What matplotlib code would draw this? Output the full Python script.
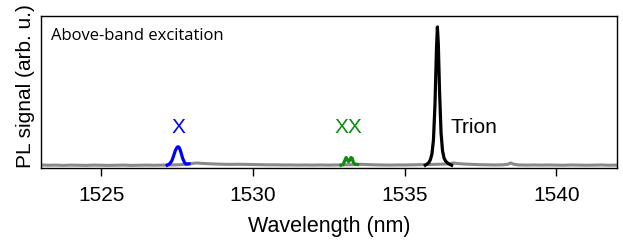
import numpy as np
import matplotlib
matplotlib.use("Agg")
import matplotlib.pyplot as plt

plt.rcParams['font.family'] = ['Liberation Sans', 'DejaVu Sans']

# Background PL spectrum (grey)
bg_wl = [1523.00, 1523.25, 1523.50, 1523.75, 1524.00, 1524.25, 1524.50, 1524.75,
         1525.00, 1525.25, 1525.50, 1525.75, 1526.00, 1526.25, 1526.50, 1526.75,
         1527.00, 1527.25, 1527.50, 1527.75, 1528.00, 1528.15, 1528.25, 1528.50,
         1528.75, 1529.00, 1529.25, 1529.50, 1529.75, 1530.00, 1530.25, 1530.50,
         1530.75, 1531.00, 1531.25, 1531.50, 1531.75, 1532.00, 1532.25, 1532.50,
         1532.75, 1533.00, 1533.25, 1533.50, 1533.75, 1534.00, 1534.25, 1534.50,
         1534.75, 1535.00, 1535.25, 1535.50, 1535.75, 1536.00, 1536.25, 1536.50,
         1536.60, 1536.75, 1537.00, 1537.25, 1537.50, 1537.75, 1538.00, 1538.25,
         1538.40, 1538.50, 1538.60, 1538.75, 1539.00, 1539.25, 1539.50, 1539.75,
         1540.00, 1540.25, 1540.50, 1540.75, 1541.00, 1541.25, 1541.50, 1541.75,
         1542.00]
bg_pl = [0.022, 0.020, 0.021, 0.019, 0.021, 0.020, 0.019, 0.021,
         0.020, 0.019, 0.020, 0.021, 0.019, 0.020, 0.021, 0.020,
         0.021, 0.022, 0.023, 0.026, 0.033, 0.036, 0.034, 0.031,
         0.029, 0.027, 0.026, 0.027, 0.026, 0.025, 0.024, 0.023,
         0.023, 0.022, 0.022, 0.021, 0.022, 0.021, 0.022, 0.021,
         0.022, 0.023, 0.024, 0.027, 0.025, 0.023, 0.022, 0.021,
         0.022, 0.022, 0.023, 0.024, 0.025, 0.026, 0.028, 0.030,
         0.036, 0.032, 0.028, 0.026, 0.024, 0.023, 0.022, 0.023,
         0.027, 0.036, 0.027, 0.022, 0.021, 0.022, 0.021, 0.022,
         0.021, 0.020, 0.022, 0.021, 0.020, 0.021, 0.022, 0.020,
         0.021]

# Exciton (X)
x_wl = [1527.17, 1527.25, 1527.32, 1527.38, 1527.44, 1527.50, 1527.53, 1527.57,
        1527.62, 1527.68, 1527.74, 1527.80, 1527.89]
x_pl = [0.020, 0.030, 0.050, 0.085, 0.125, 0.148, 0.151, 0.145,
        0.115, 0.070, 0.040, 0.028, 0.030]

# Biexciton (XX)
xx_wl = [1532.90, 1532.97, 1533.02, 1533.07, 1533.11, 1533.15, 1533.19, 1533.23,
         1533.27, 1533.31, 1533.37, 1533.45]
xx_pl = [0.020, 0.025, 0.050, 0.075, 0.060, 0.045, 0.055, 0.075,
         0.070, 0.040, 0.027, 0.025]

# Trion
tr_wl = [1535.68, 1535.75, 1535.80, 1535.85, 1535.90, 1535.95, 1536.00, 1536.05,
         1536.08, 1536.11, 1536.15, 1536.20, 1536.25, 1536.30, 1536.35, 1536.42,
         1536.50, 1536.55]
tr_pl = [0.020, 0.030, 0.040, 0.060, 0.100, 0.200, 0.450, 0.850,
         1.000, 0.880, 0.550, 0.250, 0.120, 0.070, 0.050, 0.035,
         0.025, 0.020]

fig = plt.figure(figsize=(6.23, 2.45), dpi=100)
ax = fig.add_axes([0.0653, 0.314, 0.9250, 0.621])

ax.plot(bg_wl, bg_pl, color='#8a8a8a', lw=2.2, solid_joinstyle='round')
ax.plot(x_wl, x_pl, color='#0000ff', lw=2.3)
ax.plot(xx_wl, xx_pl, color='#108a10', lw=2.3)
ax.plot(tr_wl, tr_pl, color='black', lw=2.3)

ax.text(1527.53, 0.285, "X", color='#0000ff', fontsize=15, ha='center', va='center')
ax.text(1533.15, 0.285, "XX", color='#108a10', fontsize=15, ha='center', va='center')
ax.text(1536.5, 0.285, "Trion", color='black', fontsize=15, ha='left', va='center')
ax.text(0.018, 0.87, "Above-band excitation", transform=ax.transAxes,
        fontsize=12, family=['Open Sans', 'DejaVu Sans'], ha='left', va='center')

ax.set_xlim(1523.0, 1542.0)
ax.set_ylim(0, 1.078)
ax.set_xticks([1525, 1530, 1535, 1540])
ax.set_yticks([])
ax.tick_params(axis='x', labelsize=15, length=6, width=1, direction='out', pad=7)
ax.set_xlabel("Wavelength (nm)", fontsize=15.5, labelpad=8)
ax.set_ylabel("PL signal (arb. u.)", fontsize=15)
ax.yaxis.set_label_coords(-0.009, 0.54)
for s in ax.spines.values():
    s.set_linewidth(1)

fig.savefig("out.png", dpi=100)
